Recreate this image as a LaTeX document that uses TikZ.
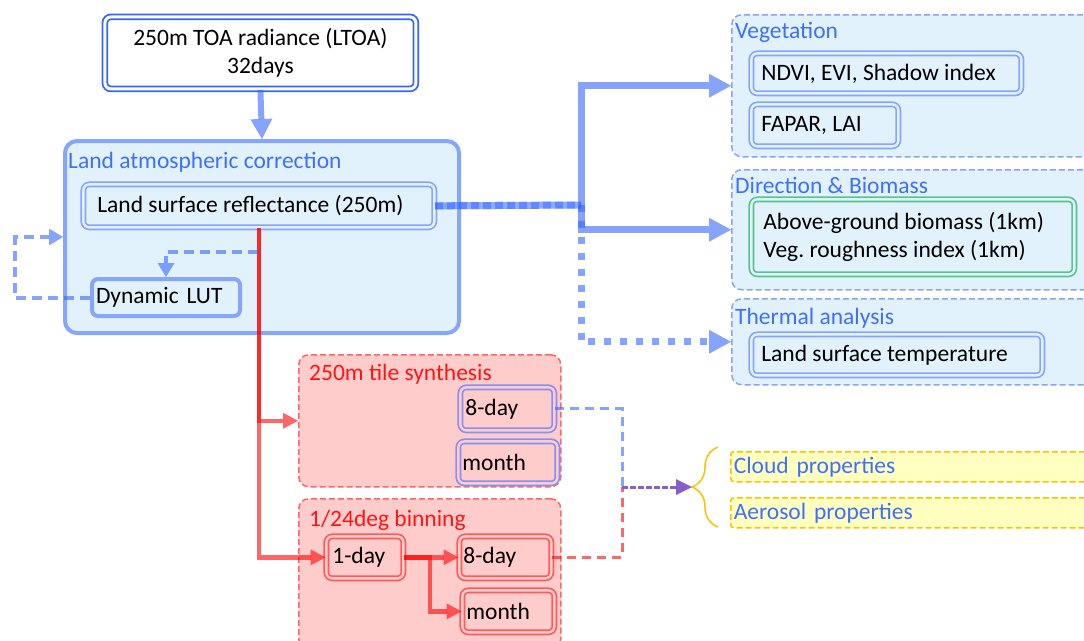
\documentclass[tikz,border=0pt]{standalone}
\usepackage{fontspec}
\setmainfont{Carlito}
\usetikzlibrary{arrows.meta,positioning,decorations.pathreplacing}
\definecolor{dblue}{HTML}{3366FF}
\definecolor{lblue}{HTML}{85A5FF}
\definecolor{pblue}{HTML}{8590F5}
\definecolor{tblue}{HTML}{3F6FFF}
\definecolor{bfill}{HTML}{E2F2FD}
\definecolor{rline}{HTML}{FF6666}
\definecolor{rbox}{HTML}{FF5A5A}
\definecolor{rfill}{HTML}{FFCCCC}
\definecolor{rtext}{HTML}{FF1414}
\definecolor{gline}{HTML}{55C58A}
\definecolor{oline}{HTML}{FFC000}
\definecolor{yfill}{HTML}{FFFFC0}
\definecolor{purp}{HTML}{8560C8}
\frenchspacing

\begin{document}
\begin{tikzpicture}[x=1pt, y=-1pt, font=\fontsize{23.5}{28.5}\selectfont,
  grp/.style={draw=lblue, fill=bfill, line width=1.5pt, dash pattern=on 6pt off 3pt, rounded corners=10pt, anchor=north west, inner sep=0pt},
  ttl/.style={anchor=west, text=tblue, inner sep=0pt},
  dbox/.style 2 args={draw=#1, double=#2, fill=#2, line width=1.7pt, double distance=2.4pt, rounded corners=6pt, anchor=north west, inner ysep=0pt, align=flush left},
  flow/.style={draw=dblue, opacity=.6, line width=7pt, -{Triangle[length=22pt,width=24pt,line width=0pt]}},
  rflow/.style={draw=red, opacity=.6, line width=4.5pt, -{Triangle[length=15pt,width=16pt,line width=0pt]}},
  fbk/.style={draw=dblue, opacity=.6, line width=4pt, dash pattern=on 10pt off 6pt, -{Triangle[length=14pt,width=17pt,line width=0pt]}}]
\useasboundingbox (0,0) rectangle (1084,640);
\clip (0,0) rectangle (1084,640);

% input
\node[dbox={dblue}{white}, align=center, minimum width=311pt, minimum height=72pt, line width=1.8pt, double distance=3pt] (toa) at (104,16) {250m TOA radiance (LTOA)\\32days};

% land atmospheric correction
\node[draw=lblue, fill=bfill, line width=4pt, rounded corners=12pt, anchor=north west, minimum width=394pt, minimum height=192pt, inner sep=0pt] (lac) at (63,139) {};
\node[ttl] (lact) at (68,162) {Land atmospheric correction};
\node[dbox={lblue}{bfill}, text width=323pt, inner xsep=14pt, minimum height=43pt] (lsr) at (82.5,183.5) {Land surface reflectance (250m)};
\node[draw=lblue, line width=4pt, rounded corners=6pt, anchor=north west, inner xsep=4pt, text width=140pt, minimum height=37pt] (lut) at (90,277) {Dynamic LUT};

% products
\node[grp, minimum width=370pt, minimum height=142pt] (veg) at (731,14) {};
\node[ttl] (vegt) at (735,32) {Vegetation};
\node[dbox={lblue}{bfill}, text width=250pt, inner xsep=10pt, minimum height=40pt] (ndvi) at (750.5,52.5) {NDVI, EVI, Shadow index};
\node[dbox={lblue}{bfill}, text width=127pt, inner xsep=10pt, minimum height=42pt] (fapar) at (750.5,103.5) {FAPAR, LAI};

\node[grp, minimum width=370pt, minimum height=120pt] (dir) at (731,169) {};
\node[ttl] (dirt) at (735,185) {Direction \& Biomass};
\node[dbox={gline}{bfill}, text width=299pt, inner xsep=12pt, minimum height=75pt] (agb) at (750.5,198.5) {Above-ground biomass (1km)\\Veg. roughness index (1km)};

\node[grp, minimum width=370pt, minimum height=86pt] (thm) at (731,298) {};
\node[ttl] (thmt) at (735,318) {Thermal analysis};
\node[dbox={lblue}{bfill}, text width=271pt, inner xsep=10pt, minimum height=41pt] (lst) at (750.5,333.5) {Land surface temperature};

% tiles and bins
\node[grp, draw=rline, fill=rfill, minimum width=262pt, minimum height=132pt] (tile) at (298,354) {};
\node[ttl, text=rtext] (tilet) at (309,374) {250m tile synthesis};
\node[dbox={pblue}{rfill}, text width=84pt, inner xsep=5pt, minimum height=43pt] (t8) at (459.5,386.5) {8-day};
\node[dbox={pblue}{rfill}, text width=91pt, inner xsep=4pt, minimum height=42pt] (tm) at (457.5,440.5) {month};

\node[grp, draw=rline, fill=rfill, minimum width=262pt, minimum height=150pt] (bin) at (298,498) {};
\node[ttl, text=rtext] (bint) at (309,520) {1/24deg binning};
\node[dbox={rbox}{rfill}, text width=65pt, inner xsep=6pt, minimum height=42pt] (b1) at (325.5,535.5) {1-day};
\node[dbox={rbox}{rfill}, text width=84pt, inner xsep=4pt, minimum height=42pt] (b8) at (458.5,535.5) {8-day};
\node[dbox={rbox}{rfill}, text width=84pt, inner xsep=4pt, minimum height=42pt] (bm) at (461.5,589.5) {month};

% atmosphere
\node[grp, draw=oline, fill=yfill, rounded corners=3pt, minimum height=30pt, text width=360pt, inner xsep=3pt, text=tblue, align=left] (cloud) at (730,451) {Cloud properties};
\node[grp, draw=oline, fill=yfill, rounded corners=3pt, minimum height=30pt, text width=360pt, inner xsep=3pt, text=tblue, align=left] (aer) at (730,497) {Aerosol properties};
\draw[oline, line width=1.5pt, decorate, decoration={brace, amplitude=26pt}] (718,527) -- (718,447);

\coordinate (br) at (581,205);
\coordinate (fb) at (258,252);
\coordinate (jn) at (622,487);
\coordinate (bt) at (692,487);

\draw[flow, line width=6pt, -{Triangle[length=20pt,width=22pt,line width=0pt]}] (toa.south) -- (lac.north);
\draw[draw=dblue, opacity=.55, line width=7pt, postaction={draw=dblue, opacity=.5, dash pattern=on 8pt off 4pt}] (lsr.east) -- (br);
\draw[flow, dash pattern=on 7pt off 9pt] (br) |- (thm.west);
\draw[flow] (br) |- (veg.west);
\draw[flow] (br) |- (dir.west);

\draw[rflow] (lsr.south) |- (tile.west);
\draw[rflow] (lsr.south) |- (b1.west);
\draw[rflow, line width=5pt] (b1.east) -- (b8.west);
\draw[rflow] (b1.east) -- ++(26,0) |- (bm.west);

\draw[fbk] (fb) -| (lut.north);
\draw[fbk] (lut.west) -- ++(-75,0) |- (lac.west);

\draw[draw=dblue, opacity=.6, line width=3pt, dash pattern=on 9pt off 6pt] (t8.east) -| (jn);
\draw[draw=red, opacity=.6, line width=3pt, dash pattern=on 9pt off 6pt] (b8.east) -| (jn);
\draw[draw=purp, line width=3pt, dash pattern=on 6pt off 2pt, -{Triangle[length=16pt,width=16pt,line width=0pt]}] (jn) -- (bt);
\end{tikzpicture}
\end{document}
